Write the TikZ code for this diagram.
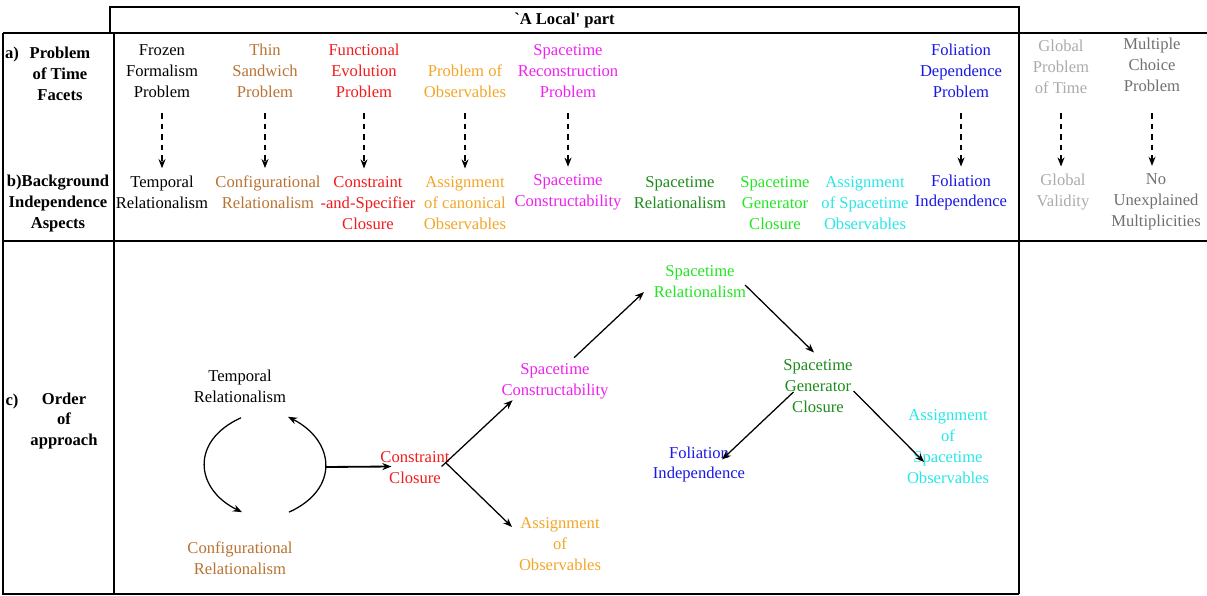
\documentclass[tikz,border=0pt]{standalone}
\usepackage{fontspec}
\setmainfont{Liberation Serif}[Ligatures=TeXOff]
\usepackage{xcolor}
\usepackage{tikz}
\usetikzlibrary{arrows.meta,calc}

\definecolor{brownish}{HTML}{B87333}
\definecolor{orangeish}{HTML}{F2A628}
\definecolor{redish}{HTML}{F21C1C}
\definecolor{magentaish}{HTML}{EE22EE}
\definecolor{darkgreen}{HTML}{1E8B1E}
\definecolor{brightgreen}{HTML}{22E622}
\definecolor{cyanish}{HTML}{2AE6E6}
\definecolor{blueish}{HTML}{1818E6}
\definecolor{fadegray}{HTML}{ABABAB}
\definecolor{midgray}{HTML}{707070}

\begin{document}
\begin{tikzpicture}[
    x=0.025cm, y=-0.025cm,
    txt/.style={align=center, font=\fontsize{11.8}{14.9}\selectfont},
    head/.style={align=center, font=\fontsize{11.8}{14.9}\selectfont\bfseries},
    grid/.style={line width=1.4pt},
    arrow/.style={-{Stealth[length=6.5pt,width=5pt]}, line width=0.9pt},
    facet/.style={arrow, dash pattern=on 4pt off 3.5pt}
]
    \useasboundingbox (0,0) rectangle (1207,596);

    % Table frame
    \draw[grid] (110,33) -- (110,7) -- (1019,7) -- (1019,594);
    \draw[grid] (3,33) -- (1207,33);
    \draw[grid] (3,241) -- (1207,241);
    \draw[grid] (3,33) -- (3,594) -- (1019,594);
    \draw[grid] (114,33) -- (114,594);

    % Row headings
    \node[head] (hdr) at (564.5,21) {`A Local' part};
    \node[head] (laba) at (12,54.5) {a)};
    \node[head] (rowa) at (60,74) {Problem\\of Time\\Facets};
    \node[head] (rowb) at (58,203.5) {b)Background\\Independence\\Aspects};
    \node[head] (labc) at (12,402) {c)};
    \node[head] (rowc) at (64,421) {Order\\of\\approach};

    % a) Problem of Time facets
    \node[txt] (ffp) at (162,71) {Frozen\\Formalism\\Problem};
    \node[txt, text=brownish] (tsp) at (265,71) {Thin\\Sandwich\\Problem};
    \node[txt, text=redish] (fep) at (364,71) {Functional\\Evolution\\Problem};
    \node[txt, text=orangeish] (pobs) at (465,81.5) {Problem of\\Observables};
    \node[txt, text=magentaish] (srp) at (568,71) {Spacetime\\Reconstruction\\Problem};
    \node[txt, text=blueish] (fdp) at (961,71) {Foliation\\Dependence\\Problem};
    \node[txt, text=fadegray] (gpt) at (1061,67) {Global\\Problem\\of Time};
    \node[txt, text=midgray] (mcp) at (1152,65) {Multiple\\Choice\\Problem};

    % b) Background Independence aspects
    \node[txt] (trb) at (162,192.5) {Temporal\\Relationalism};
    \node[txt, text=brownish] (crb) at (268,192.5) {Configurational\\Relationalism};
    \node[txt, text=redish] (csc) at (368,203) {Constraint\\-and-Specifier\\Closure};
    \node[txt, text=orangeish] (aco) at (465,203) {Assignment\\of canonical\\Observables};
    \node[txt, text=magentaish] (scb) at (568,192.5) {Spacetime\\Constructability};
    \node[txt, text=darkgreen] (srb) at (680,192.5) {Spacetime\\Relationalism};
    \node[txt, text=brightgreen] (sgcb) at (775,203) {Spacetime\\Generator\\Closure};
    \node[txt, text=cyanish] (asob) at (865,203) {Assignment\\of Spacetime\\Observables};
    \node[txt, text=blueish] (fib) at (961,192.5) {Foliation\\Independence};
    \node[txt, text=fadegray] (gv) at (1063,192.5) {Global\\Validity};
    \node[txt, text=midgray] (num) at (1156,202) {No\\Unexplained\\Multiplicities};

    % Facet to aspect arrows (dashed)
    \coordinate (dtop) at (0,113);
    \foreach \p/\q in {ffp/trb, tsp/crb, fep/csc, pobs/aco, srp/scb, fdp/fib, gpt/gv, mcp/num}
        \draw[facet] (\p.south |- dtop) -- ($(\p.south |- \q.north)+(0,-3)$);

    % c) Order of approach
    \node[txt] (tr) at (240,386.5) {Temporal\\Relationalism};
    \node[txt, text=brownish] (cr) at (240,558.5) {Configurational\\Relationalism};
    \node[txt, text=redish] (cc) at (415,467.5) {Constraint\\Closure};
    \node[txt, text=magentaish] (sc) at (555,381.5) {Spacetime\\Constructability};
    \node[txt, text=orangeish] (ao) at (560,544) {Assignment\\of\\Observables};
    \node[txt, text=brightgreen] (sr) at (700,282) {Spacetime\\Relationalism};
    \node[txt, text=darkgreen] (sgc) at (818,386) {Spacetime\\Generator\\Closure};
    \node[txt, text=blueish] (fi) at (699,464.5) {Foliation\\Independence};
    \node[txt, text=cyanish] (aso) at (948,447) {Assignment\\of\\Spacetime\\Observables};

    % Relationalism loop
    \draw[arrow] ($(tr.south)+(1,10)$) .. controls +(-51,23) and +(-47,-23) .. ($(cr.north)+(2,-25)$);
    \draw[arrow] ($(cr.north)+(49,-25)$) .. controls +(51,-23) and +(47,24) .. ($(tr.south)+(48,9)$);
    \coordinate (loop) at (326,467);
    \draw[arrow, line width=1.3pt] (loop) -- ($(cc.west)+(16,-1)$);

    % Order arrows
    \draw[arrow] ($(cc.east)+(-13,-1)$) -- ($(sc.south west)+(16,-4)$);
    \draw[arrow] ($(cc.east)+(-9,-5)$) -- ($(ao.west)+(-2,-17)$);
    \draw[arrow] ($(sc.north)+(19,-1)$) -- ($(sr.south west)+(-5,-11)$);
    \draw[arrow] ($(sr.east)+(-6,3)$) -- ($(sgc.north)+(-4,-2)$);
    \draw[arrow] ($(sgc.west)+(15,6)$) -- ($(fi.east)+(-28,-5)$);
    \draw[arrow] ($(sgc.east)+(-4,5)$) -- ($(aso.west)+(22,15)$);

\end{tikzpicture}
\end{document}
